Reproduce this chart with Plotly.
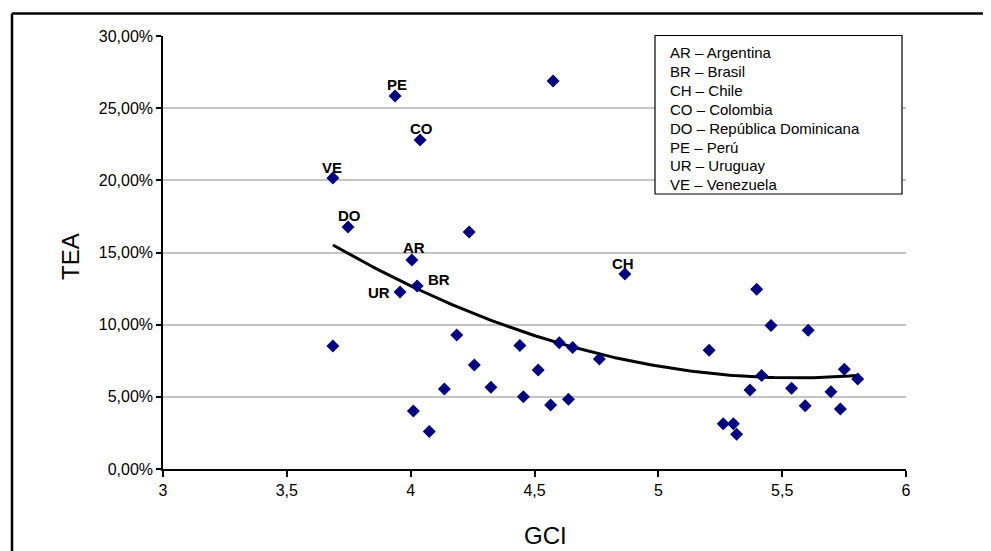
import numpy as np
import plotly.graph_objects as go

# ---------------- data ----------------
gci = [3.937, 4.575, 4.038, 3.686, 3.747, 4.236, 4.005, 4.026, 3.957, 4.865,
       3.686, 5.397, 5.455, 5.605, 5.205,
       4.186, 4.441, 4.600, 4.654, 4.762, 4.257, 4.515, 4.136, 4.324, 4.455,
       4.565, 4.637, 4.011, 4.075,
       5.751, 5.805, 5.417, 5.370, 5.538, 5.697, 5.593, 5.735, 5.262, 5.303, 5.316]
tea_pct = [25.85, 26.89, 22.80, 20.17, 16.77, 16.42, 14.48, 12.68, 12.27, 13.51,
           8.52, 12.46, 9.95, 9.62, 8.23,
           9.29, 8.55, 8.75, 8.41, 7.62, 7.21, 6.86, 5.54, 5.66, 5.01,
           4.44, 4.83, 4.02, 2.59,
           6.91, 6.24, 6.47, 5.47, 5.59, 5.36, 4.39, 4.16, 3.14, 3.14, 2.40]
point_codes = ["PE", "", "CO", "VE", "DO", "", "AR", "BR", "UR", "CH"] + [""] * 30

legend_codes = ["AR", "BR", "CH", "CO", "DO", "PE", "UR", "VE"]
legend_names = ["Argentina", "Brasil", "Chile", "Colombia", "República Dominicana",
                "Perú", "Uruguay", "Venezuela"]

x_ticks = [3, 3.5, 4, 4.5, 5, 5.5, 6]
y_ticks = [0, 0.05, 0.10, 0.15, 0.20, 0.25, 0.30]

# ---------------- styles ----------------
FONT = "Liberation Sans, Arial, sans-serif"
label_shift = {  # (xshift, yshift) in px relative to the marker
    "PE": (2, 11), "CO": (1, 11), "VE": (-1, 10), "DO": (1, 11),
    "AR": (2, 13), "BR": (22, 6), "UR": (-21, -1), "CH": (-2, 11),
}
# page has an 8px body margin: plot area should sit at x 163..906, y 36..469 on the page
OFF = 8
PL, PR, PT, PB = 163, 906, 36, 469
W, H = 991 - OFF, 551 - OFF


def px(xp):
    return (xp - PL) / (PR - PL)


def py(yp):
    return (PB - yp) / (PB - PT)


tea = [v / 100 for v in tea_pct]

# polynomial (order 2) trend line, fitted to the data
coef = np.polyfit(gci, tea, 2)
tx = np.linspace(min(gci), max(gci), 120)
ty = np.polyval(coef, tx)

fig = go.Figure()
fig.add_trace(go.Scatter(x=tx, y=ty, mode="lines",
                         line=dict(color="black", width=3), hoverinfo="skip"))
fig.add_trace(go.Scatter(x=gci, y=tea, mode="markers",
                         marker=dict(symbol="diamond", size=10, color="#000080",
                                     line=dict(width=0))))

annotations = []
for x, y, code in zip(gci, tea, point_codes):
    if code:
        xs, ys = label_shift[code]
        annotations.append(dict(x=x, y=y, xref="x", yref="y", text="<b>%s</b>" % code,
                                showarrow=False, xshift=xs, yshift=ys,
                                xanchor="center", yanchor="middle",
                                font=dict(family=FONT, size=15, color="black")))

# legend box text
for i, (c, n) in enumerate(zip(legend_codes, legend_names)):
    yp = 52.5 + i * 18.9
    annotations.append(dict(x=px(668), y=py(yp), xref="paper", yref="paper",
                            xanchor="left", yanchor="middle", showarrow=False,
                            text="%s – %s" % (c, n),
                            font=dict(family=FONT, size=15, color="black")))

# axis titles
annotations.append(dict(x=px(70), y=py(257), xref="paper", yref="paper",
                        xanchor="center", yanchor="middle",
                        text="TEA", textangle=-90, showarrow=False,
                        font=dict(family=FONT, size=24, color="black")))
annotations.append(dict(x=px(545), y=py(535), xref="paper", yref="paper",
                        xanchor="center", yanchor="middle",
                        text="GCI", showarrow=False,
                        font=dict(family=FONT, size=24, color="black")))

shapes = [
    # legend box
    dict(type="rect", xref="paper", yref="paper",
         x0=px(655), x1=px(902), y0=py(194), y1=py(35.5),
         line=dict(color="black", width=1.2), fillcolor="white", layer="above"),
    # outer frame (top and left edges)
    dict(type="line", xref="paper", yref="paper",
         x0=px(12), x1=1.3, y0=py(13.5), y1=py(13.5),
         line=dict(color="black", width=2.5)),
    dict(type="line", xref="paper", yref="paper",
         x0=px(12), x1=px(12), y0=-0.4, y1=py(13.5),
         line=dict(color="black", width=2.5)),
]

fig.update_layout(
    width=W, height=H,
    margin=dict(l=PL - OFF, r=991 - PR, t=PT - OFF, b=551 - PB, pad=0),
    paper_bgcolor="white", plot_bgcolor="white",
    showlegend=False,
    separators=",.",
    font=dict(family=FONT, size=16, color="black"),
    annotations=annotations,
    shapes=shapes,
    xaxis=dict(range=[3, 6], tickvals=x_ticks, showgrid=False, zeroline=False,
               showline=True, linecolor="black", linewidth=1.5,
               ticks="outside", ticklen=6, tickcolor="black", tickwidth=1.5,
               tickfont=dict(family=FONT, size=16, color="black")),
    yaxis=dict(range=[0, 0.30], tickvals=y_ticks, tickformat=".2%",
               showgrid=True, gridcolor="#c4c4c4", gridwidth=1.5, zeroline=False,
               showline=True, linecolor="black", linewidth=1.5,
               ticks="outside", ticklen=5, tickcolor="black", tickwidth=1.5,
               tickfont=dict(family=FONT, size=16, color="black")),
)

fig.write_html("out.html")
